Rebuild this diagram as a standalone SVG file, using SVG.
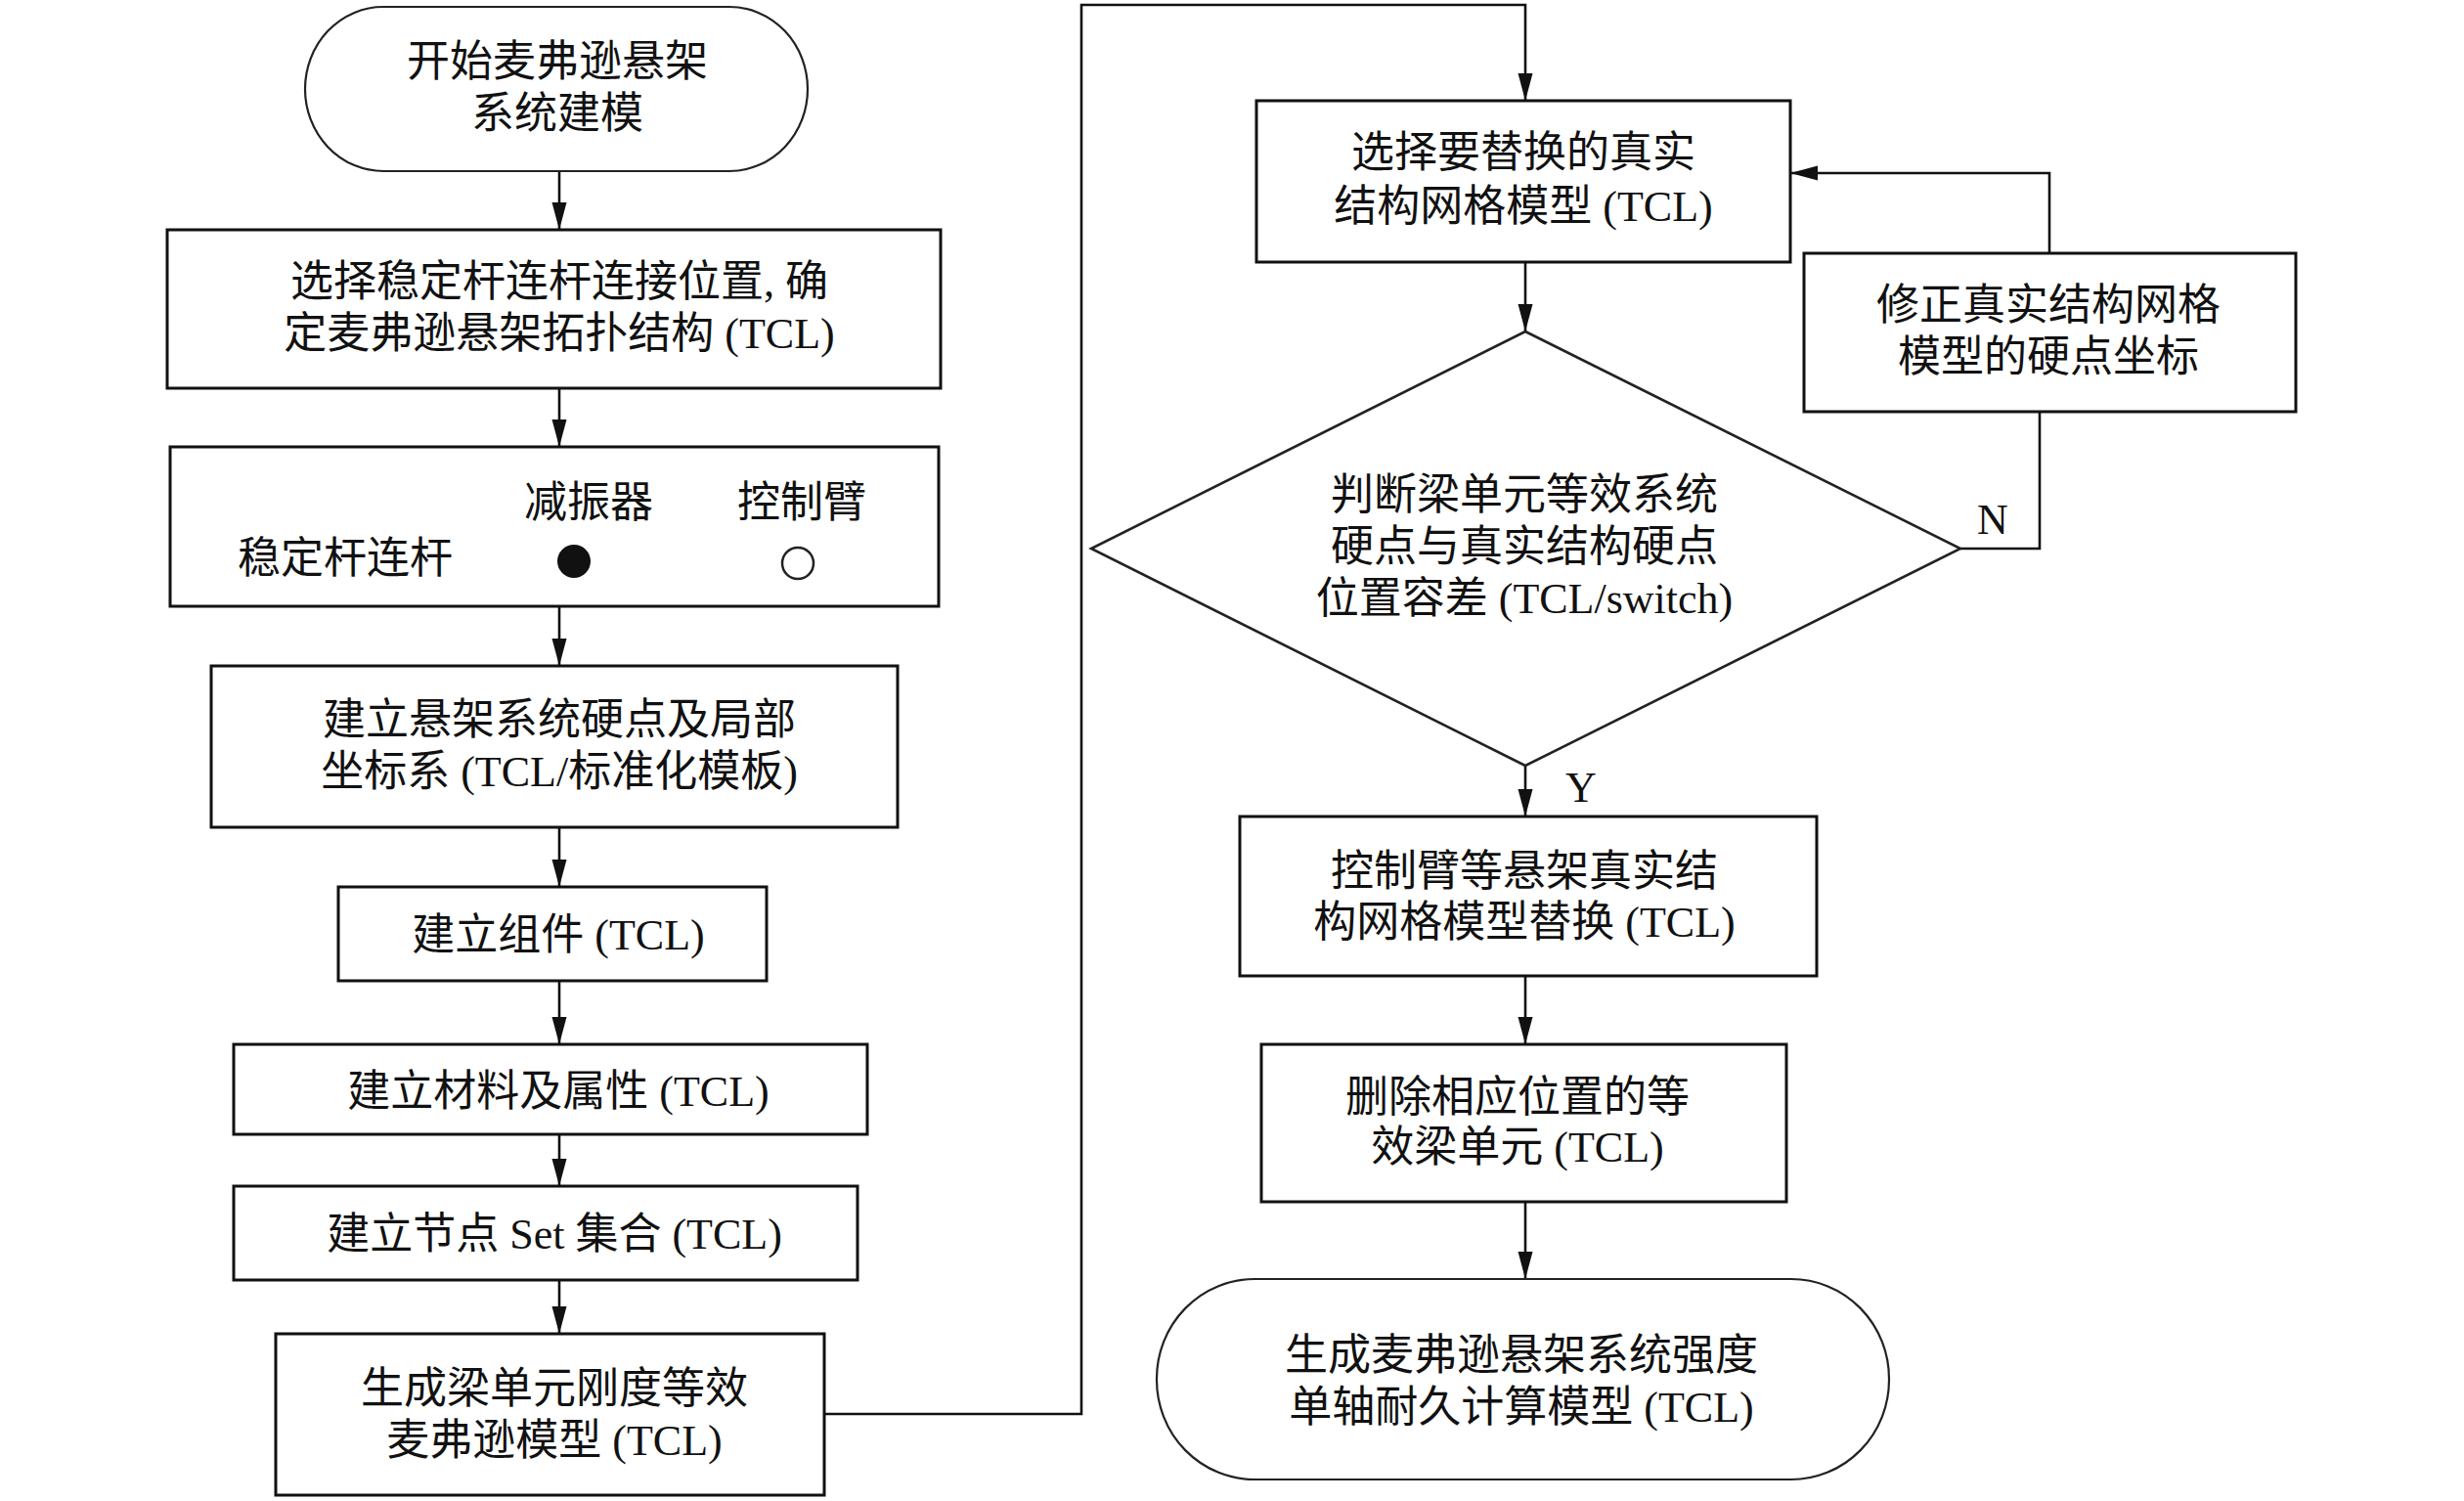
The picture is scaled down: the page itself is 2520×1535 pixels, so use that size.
<svg xmlns="http://www.w3.org/2000/svg" width="2520" height="1535" viewBox="0 0 2520 1535">
<style>
text{font-family:"Liberation Serif","Noto Sans CJK SC",serif;font-size:44px;fill:#111;text-anchor:middle}
.box{fill:#fff;stroke:#111;stroke-width:3}
.term{fill:#fff;stroke:#222;stroke-width:2.2}
.dia{fill:#fff;stroke:#222;stroke-width:2.6}
.con{fill:none;stroke:#111;stroke-width:2.6}
</style>
<defs>
<marker id="arr" markerUnits="userSpaceOnUse" markerWidth="30" markerHeight="16" refX="28" refY="7.5" orient="auto">
<path d="M0,0 L28,7.5 L0,15 z" fill="#111"/>
</marker>
</defs>
<rect width="2520" height="1535" fill="#fff"/>

<g id="connectors">
<line class="con" x1="572" y1="175" x2="572" y2="235" marker-end="url(#arr)"/>
<line class="con" x1="572" y1="397" x2="572" y2="457" marker-end="url(#arr)"/>
<line class="con" x1="572" y1="620" x2="572" y2="681" marker-end="url(#arr)"/>
<line class="con" x1="572" y1="846" x2="572" y2="907" marker-end="url(#arr)"/>
<line class="con" x1="572" y1="1003" x2="572" y2="1068" marker-end="url(#arr)"/>
<line class="con" x1="572" y1="1160" x2="572" y2="1213" marker-end="url(#arr)"/>
<line class="con" x1="572" y1="1309" x2="572" y2="1364" marker-end="url(#arr)"/>
<path class="con" d="M843,1446 H1106 V5 H1560 V103" marker-end="url(#arr)"/>
<line class="con" x1="1560" y1="268" x2="1560" y2="339" marker-end="url(#arr)"/>
<line class="con" x1="1560" y1="783" x2="1560" y2="835" marker-end="url(#arr)"/>
<line class="con" x1="1560" y1="998" x2="1560" y2="1068" marker-end="url(#arr)"/>
<line class="con" x1="1560" y1="1229" x2="1560" y2="1308" marker-end="url(#arr)"/>
<path class="con" d="M2005,561 H2086 V421"/>
<path class="con" d="M2096,259 V177 H1831" marker-end="url(#arr)"/>
<text x="2038" y="546">N</text>
<text x="1617" y="820">Y</text>
</g>

<g id="start">
<rect class="term" x="312" y="7" width="514" height="168" rx="80" ry="84"/>
<text x="570" y="78">开始麦弗逊悬架</text>
<text x="570" y="131">系统建模</text>
</g>

<g id="n1">
<rect class="box" x="171" y="235" width="791" height="162"/>
<text x="572" y="303">选择稳定杆连杆连接位置, 确</text>
<text x="572" y="356">定麦弗逊悬架拓扑结构 (TCL)</text>
</g>

<g id="n2">
<rect class="box" x="174" y="457" width="786" height="163"/>
<text x="602" y="529">减振器</text>
<text x="820" y="529">控制臂</text>
<text x="353" y="586">稳定杆连杆</text>
<circle cx="587" cy="574" r="17" fill="#111"/>
<circle cx="816" cy="576" r="16" fill="#fff" stroke="#222" stroke-width="2.5"/>
</g>

<g id="n3">
<rect class="box" x="216" y="681" width="702" height="165"/>
<text x="572" y="751">建立悬架系统硬点及局部</text>
<text x="572" y="804">坐标系 (TCL/标准化模板)</text>
</g>

<g id="n4">
<rect class="box" x="346" y="907" width="438" height="96"/>
<text x="571" y="971">建立组件 (TCL)</text>
</g>

<g id="n5">
<rect class="box" x="239" y="1068" width="648" height="92"/>
<text x="571" y="1131">建立材料及属性 (TCL)</text>
</g>

<g id="n6">
<rect class="box" x="239" y="1213" width="638" height="96"/>
<text x="567" y="1277">建立节点 Set 集合 (TCL)</text>
</g>

<g id="n7">
<rect class="box" x="282" y="1364" width="561" height="165"/>
<text x="567" y="1435">生成梁单元刚度等效</text>
<text x="567" y="1488">麦弗逊模型 (TCL)</text>
</g>

<g id="n8">
<rect class="box" x="1285" y="103" width="546" height="165"/>
<text x="1558" y="171">选择要替换的真实</text>
<text x="1558" y="226">结构网格模型 (TCL)</text>
</g>

<g id="n9">
<rect class="box" x="1845" y="259" width="503" height="162"/>
<text x="2095" y="327">修正真实结构网格</text>
<text x="2095" y="380">模型的硬点坐标</text>
</g>

<g id="decision">
<polygon class="dia" points="1560,339 2005,561 1560,783 1116,561"/>
<text x="1559" y="521">判断梁单元等效系统</text>
<text x="1559" y="574">硬点与真实结构硬点</text>
<text x="1559" y="627">位置容差 (TCL/switch)</text>
</g>

<g id="n10">
<rect class="box" x="1268" y="835" width="590" height="163"/>
<text x="1559" y="906">控制臂等悬架真实结</text>
<text x="1559" y="958">构网格模型替换 (TCL)</text>
</g>

<g id="n11">
<rect class="box" x="1290" y="1068" width="537" height="161"/>
<text x="1552" y="1137">删除相应位置的等</text>
<text x="1552" y="1188">效梁单元 (TCL)</text>
</g>

<g id="end">
<rect class="term" x="1183" y="1308" width="749" height="205" rx="100" ry="102"/>
<text x="1556" y="1401">生成麦弗逊悬架系统强度</text>
<text x="1556" y="1454">单轴耐久计算模型 (TCL)</text>
</g>
</svg>
